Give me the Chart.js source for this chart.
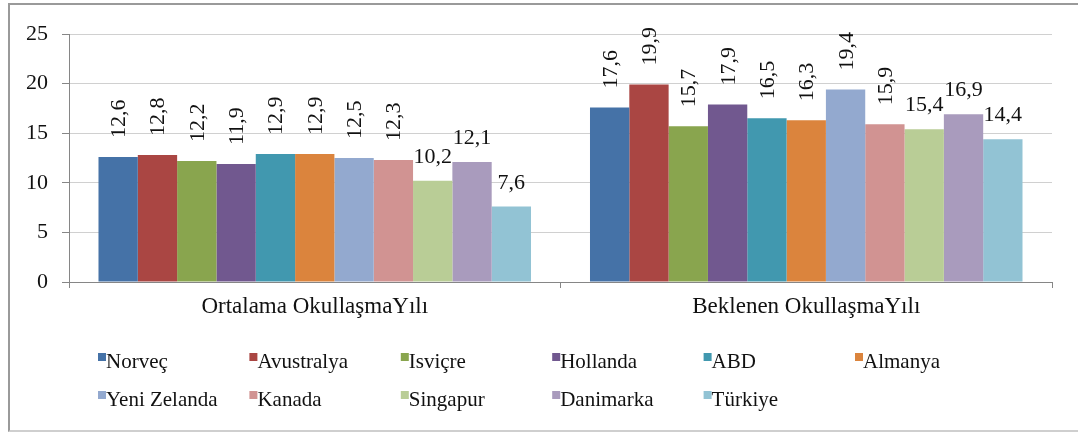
<!DOCTYPE html>
<html>
<head>
<meta charset="utf-8">
<script src="https://cdn.jsdelivr.net/npm/chart.js@4.4.1/dist/chart.umd.min.js"></script>
<style>
  html, body { margin: 0; padding: 0; background: #fff; overflow: hidden; }
  #wrap { position: relative; width: 1078px; height: 432px; }
  #frame {
    position: absolute; left: 8px; top: 3px; width: 1100px; height: 429px;
    border: 2px solid #9a9a9a; border-bottom-color: #cfcfcf; box-sizing: border-box;
  }
  #chart { position: absolute; left: 0; top: 0; }
</style>
</head>
<body>
<div id="wrap">
  <div id="frame"></div>
  <canvas id="chart" width="1078" height="432"></canvas>
</div>
<script>
// ====== DATA ======
const categories = ["Ortalama OkullaşmaYılı", "Beklenen OkullaşmaYılı"];
const countries = ["Norveç", "Avustralya", "Isviçre", "Hollanda", "ABD", "Almanya",
  "Yeni Zelanda", "Kanada", "Singapur", "Danimarka", "Türkiye"];
const ortalama = [12.6, 12.8, 12.2, 11.9, 12.9, 12.9, 12.5, 12.3, 10.2, 12.1, 7.6];
const beklenen = [17.6, 19.9, 15.7, 17.9, 16.5, 16.3, 19.4, 15.9, 15.4, 16.9, 14.4];
const yTicks = [0, 5, 10, 15, 20, 25];

// ====== STYLE ======
const colors = ["#4572A7", "#AA4643", "#89A54E", "#71588F", "#4198AF", "#DB843D",
  "#93A9CF", "#D19392", "#B9CD96", "#A99BBD", "#92C3D4"];
const FONT = '"Liberation Serif", "Times New Roman", serif';
const flatFrom = 8; // labels from this series on are drawn horizontally

const fmt = (v) => v.toFixed(1).replace(".", ",");

const valueLabels = {
  id: "valueLabels",
  afterDatasetsDraw(chart) {
    const ctx = chart.ctx;
    ctx.save();
    ctx.fillStyle = "#111";
    ctx.font = "22px " + FONT;
    chart.data.datasets.forEach((ds, i) => {
      chart.getDatasetMeta(i).data.forEach((bar, j) => {
        const txt = fmt(ds.data[j]);
        if (i >= flatFrom) {
          ctx.textAlign = "center";
          ctx.textBaseline = "alphabetic";
          ctx.fillText(txt, bar.x, bar.y - 18);
        } else {
          ctx.save();
          ctx.translate(bar.x + 7, bar.y - 19);
          ctx.rotate(-Math.PI / 2);
          ctx.textAlign = "left";
          ctx.textBaseline = "alphabetic";
          ctx.fillText(txt, 0, 0);
          ctx.restore();
        }
      });
    });
    ctx.restore();
  }
};

const gridLegend = {
  id: "gridLegend",
  afterDraw(chart) {
    const ctx = chart.ctx;
    const x0 = 98, step = 151.4, rows = [368, 406], perRow = 6;
    ctx.save();
    ctx.font = "21px " + FONT;
    ctx.textBaseline = "alphabetic";
    ctx.textAlign = "left";
    chart.data.datasets.forEach((ds, i) => {
      const x = x0 + (i % perRow) * step;
      const y = rows[Math.floor(i / perRow)];
      ctx.fillStyle = ds.backgroundColor;
      ctx.fillRect(x, y - 15, 8, 8);
      ctx.fillStyle = "#111";
      ctx.fillText(ds.label, x + 8, y);
    });
    ctx.restore();
  }
};

new Chart(document.getElementById("chart"), {
  type: "bar",
  data: {
    labels: categories,
    datasets: countries.map((name, i) => ({
      label: name,
      data: [ortalama[i], beklenen[i]],
      backgroundColor: colors[i],
      borderWidth: 0,
      barPercentage: 1,
      categoryPercentage: 0.88
    }))
  },
  options: {
    responsive: false,
    animation: false,
    devicePixelRatio: 1,
    layout: { padding: { top: 34, right: 26, left: 0, bottom: 0 } },
    plugins: { legend: { display: false }, tooltip: { enabled: false } },
    scales: {
      x: {
        afterFit: (s) => { s.height = 150; },
        border: { color: "#868686", width: 1 },
        grid: { drawOnChartArea: false, tickLength: 6, color: "#868686" },
        ticks: { color: "#111", padding: 5, font: { family: FONT, size: 23 } }
      },
      y: {
        min: 0,
        max: 25,
        afterFit: (s) => { s.width = 69; },
        afterBuildTicks: (s) => { s.ticks = yTicks.map(v => ({ value: v })); },
        border: { color: "#868686", width: 1 },
        grid: { color: "#d0d0d0", tickLength: 7, tickColor: "#868686" },
        ticks: { color: "#111", padding: 14, font: { family: FONT, size: 22 } }
      }
    }
  },
  plugins: [valueLabels, gridLegend]
});
</script>
</body>
</html>
